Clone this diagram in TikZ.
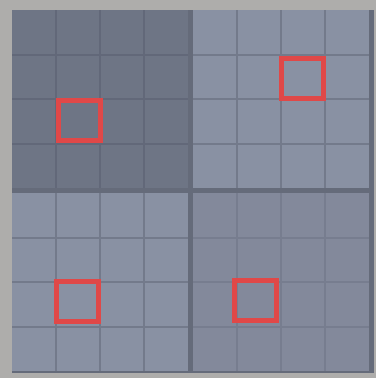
\documentclass[tikz,border=0pt]{standalone}
\usepackage{xcolor}
\usepackage{tikz}
\usetikzlibrary{positioning,calc}
\definecolor{FrameGray}{HTML}{AEADAB}
\definecolor{GapGray}{HTML}{656B7A}
\definecolor{QuadDark}{HTML}{6E7585}
\definecolor{QuadDarkLine}{HTML}{626879}
\definecolor{QuadLight}{HTML}{8991A3}
\definecolor{QuadLightLine}{HTML}{737A8B}
\definecolor{QuadMid}{HTML}{83899B}
\definecolor{QuadMidLine}{HTML}{777D8F}
\definecolor{MarkRed}{HTML}{E04848}

\tikzset{
  quad/.style={draw=none,inner sep=0pt,minimum width=176pt,minimum height=178pt},
  gridline/.style={line width=2pt},
  markbox/.style={draw=MarkRed,line width=5pt,inner sep=0pt,
                  minimum width=42pt,minimum height=40pt}
}

\begin{document}
\begin{tikzpicture}[x=1pt,y=-1pt]
  \useasboundingbox (0,0) rectangle (376,378);
  \fill[FrameGray] (0,0) rectangle (376,378);
  \fill[GapGray] (12,10) rectangle (374,373);

  % four quadrants
  \node[quad,fill=QuadDark,anchor=north west]  (tl) at (12,10)   {};
  \node[quad,fill=QuadLight,anchor=north west] (tr) at (193,10)  {};
  \node[quad,fill=QuadLight,anchor=north west] (bl) at (12,193)  {};
  \node[quad,fill=QuadMid,anchor=north west]   (br) at (193,193) {};

  % 4x4 grid in each quadrant
  \foreach \q/\c in {tl/QuadDarkLine,tr/QuadLightLine,bl/QuadLightLine,br/QuadMidLine}{
    \foreach \i in {1,2,3}{
      \draw[gridline,\c] ($(\q.north west)!\i/4!(\q.north east)$) -- ($(\q.south west)!\i/4!(\q.south east)$);
      \draw[gridline,\c] ($(\q.north west)!\i/4!(\q.south west)$) -- ($(\q.north east)!\i/4!(\q.south east)$);
    }
  }

  % red marks
  \node[markbox] (mtl) at (79,120)  {};
  \node[markbox] (mtr) at (302,78)  {};
  \node[markbox] (mbl) at (77,301)  {};
  \node[markbox] (mbr) at (255,300) {};
\end{tikzpicture}
\end{document}
